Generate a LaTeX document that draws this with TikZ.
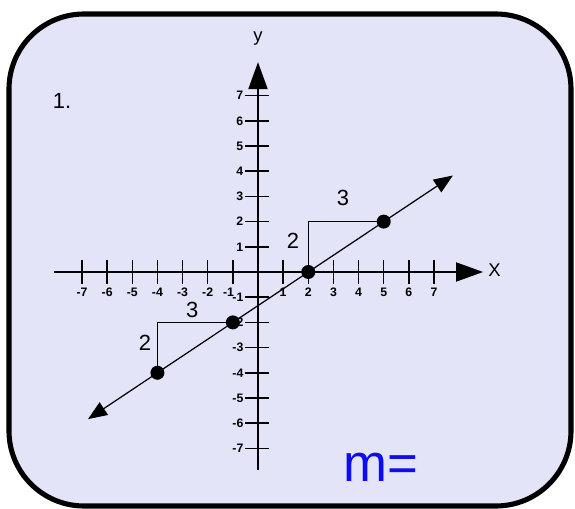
\documentclass[tikz,border=0pt]{standalone}
\usepackage{fontspec}
\setmainfont{Liberation Sans}
\usetikzlibrary{arrows.meta}
\definecolor{panel}{RGB}{228,228,248}
\definecolor{mblue}{RGB}{12,12,245}
\begin{document}
\begin{tikzpicture}[x=0.02cm,y=-0.02cm,
  frame/.style={line width=2.9pt, fill=panel, rounded corners=1.5cm},
  axisline/.style={line width=1.1pt, -{Triangle[length=0.54cm,width=0.38cm]}},
  tickline/.style={line width=0.85pt},
  ticklab/.style={font=\fontsize{7}{8}\selectfont\bfseries, inner sep=0pt},
  slopelab/.style={font=\fontsize{12.5}{14}\selectfont, inner sep=0pt},
  dotpt/.style={circle, fill=black, minimum size=0.28cm, inner sep=0pt},
  mainline/.style={line width=0.7pt, {Triangle[length=0.38cm,width=0.3cm]}-{Triangle[length=0.38cm,width=0.3cm]}},
  legline/.style={line width=0.8pt}]
\useasboundingbox (0,0) rectangle (575,509);
\draw[frame] (9,14) rectangle (571,506);
\node[font=\fontsize{12.5}{14}\selectfont, inner sep=0pt] (num) at (62,101) {1.};
\node[font=\fontsize{30}{32}\selectfont, text=mblue, inner sep=0pt, anchor=base] (meq) at (381,482) {m=};
\begin{scope}[shift={(258,272)}, x=0.503cm, y=0.504cm]
  % axes
  \coordinate (xs) at (-8.1,0);
  \coordinate (xe) at (8.95,0);
  \coordinate (ys) at (0,-7.86);
  \coordinate (ye) at (0,8.33);
  \draw[axisline] (xs) -- (xe);
  \draw[axisline] (ys) -- (ye);
  \node[font=\fontsize{10.5}{12}\selectfont, inner sep=0pt] (xlab) at (9.41,0.08) {X};
  \node[font=\fontsize{10.5}{12}\selectfont, inner sep=0pt] (ylab) at (0,9.28) {y};
  % ticks
  \foreach \i in {-7,-6,-5,-4,-3,-2,-1,1,2,3,4,5,6,7}{
    \draw[tickline] (\i,-0.48) -- (\i,0.48);
    \draw[tickline] (-0.5,\i) -- (0.45,\i);
  }
  \foreach \i in {-7,-6,-5,-4,-3,-2,1,2,3,4,5,6,7}{
    \node[ticklab] (xt\i) at (\i,-0.8) {\i};
  }
  \node[ticklab] (xtm1) at (-1.17,-0.8) {-1};
  \foreach \i in {1,2,3,4,5,6,7}{
    \node[ticklab] (yt\i) at (-0.72,\i) {\i};
  }
  \foreach \i in {-1,-2,-3,-4,-5,-6,-7}{
    \node[ticklab] (yt\i) at (-0.8,\i) {\i};
  }
  % line points
  \coordinate (la) at (-6.76,-5.84);
  \coordinate (lb) at (7.75,3.83);
  \coordinate (p1) at (-4,-4);
  \coordinate (p2) at (-1,-2);
  \coordinate (p3) at (2,0);
  \coordinate (p4) at (5,2);
  \draw[mainline] (la) -- (lb);
  \draw[legline] (p1) |- (p2);
  \draw[legline] (p3) |- (p4);
  \foreach \p in {p1,p2,p3,p4}{ \node[dotpt] (d\p) at (\p) {}; }
  \node[slopelab] (r1) at (1.39,1.23) {2};
  \node[slopelab] (r2) at (3.38,2.94) {3};
  \node[slopelab] (r3) at (-4.49,-2.82) {2};
  \node[slopelab] (r4) at (-2.62,-1.51) {3};
\end{scope}
\end{tikzpicture}
\end{document}
